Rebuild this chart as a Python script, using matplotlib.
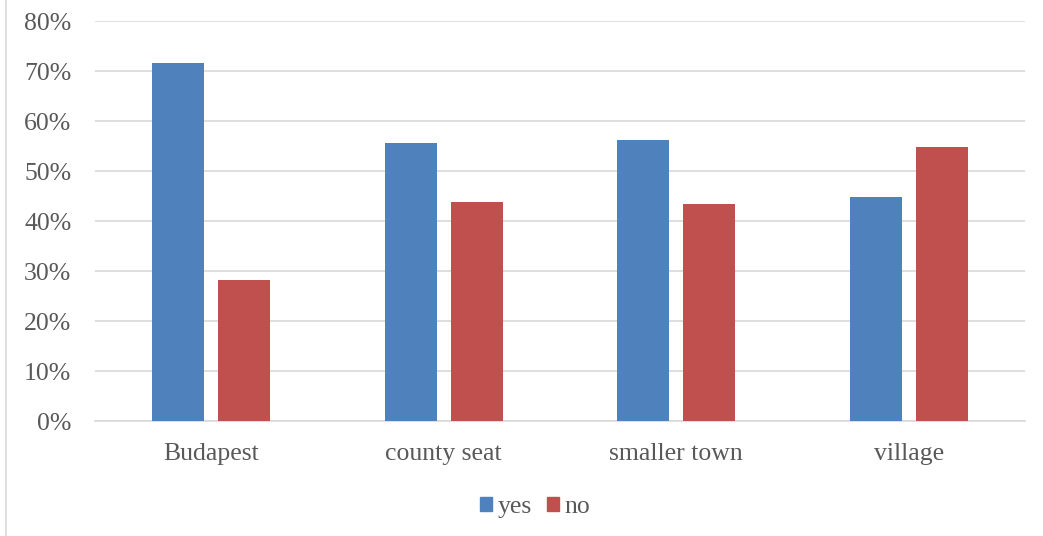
import matplotlib
matplotlib.use("Agg")
import matplotlib.pyplot as plt
import numpy as np
from matplotlib.lines import Line2D
from matplotlib.patches import Patch

categories = ["Budapest", "county seat", "smaller town", "village"]
yes_vals = [71.6, 55.6, 56.2, 44.8]
no_vals = [28.2, 43.8, 43.4, 54.8]
series_names = ["yes", "no"]
colors = ["#4F81BD", "#C0504D"]

plt.rcParams['font.family'] = ['Liberation Serif', 'DejaVu Serif']

fig = plt.figure(figsize=(10.43, 5.36), dpi=100)
ax = fig.add_axes([95/1043, 1-421/536, 930/1043, 400/536])

x = np.arange(len(categories))
w = 0.224
off = 0.142
ax.bar(x - off, yes_vals, width=w, color=colors[0], zorder=3)
ax.bar(x + off, no_vals, width=w, color=colors[1], zorder=3)

ax.set_xlim(-0.5, len(categories) - 0.5)
ax.set_ylim(0, 80)
ax.set_yticks(np.arange(0, 81, 10))
ax.set_yticklabels([f"{v}%" for v in range(0, 81, 10)])
ax.set_xticks(x)
ax.set_xticklabels(categories)
ax.yaxis.grid(True, color="#D9D9D9", linewidth=1.2, zorder=0)
for s in ["top", "right", "left"]:
    ax.spines[s].set_visible(False)
ax.spines["bottom"].set_color("#D9D9D9")
ax.spines["bottom"].set_linewidth(1.2)
ax.tick_params(axis="both", length=0, labelsize=18.5, colors="#595959")
ax.tick_params(axis="y", pad=17)
ax.tick_params(axis="x", pad=16)

handles = [Patch(color=c) for c in colors]
fig.legend(handles, series_names, loc="center", bbox_to_anchor=(535/1043, 1-507/536),
           ncol=2, frameon=False, fontsize=18.5, handlelength=0.48, handleheight=0.48,
           handletextpad=0.2, columnspacing=0.6, labelcolor="#595959",
           borderpad=0, borderaxespad=0)

fig.add_artist(Line2D([6/1043, 6/1043], [0, 1], transform=fig.transFigure, color="#D9D9D9", linewidth=1.2))

fig.savefig("out.png", dpi=100)
